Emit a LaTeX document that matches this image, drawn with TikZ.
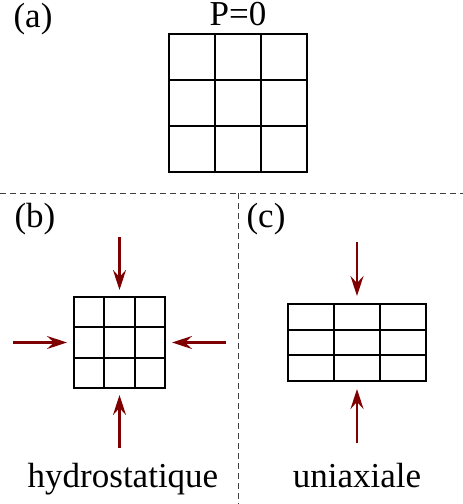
\documentclass[tikz,border=0pt]{standalone}
\usepackage{fontspec}
\setmainfont{Liberation Serif}
\newfontfamily\timesfam{Liberation Serif}
\usetikzlibrary{arrows.meta,calc}
\definecolor{arrowred}{HTML}{7F0000}
\definecolor{sepgray}{HTML}{404040}
\begin{document}
\begin{tikzpicture}[x=1pt,y=-1pt,
  lab/.style={font=\timesfam\fontsize{35}{40}\selectfont, inner sep=0pt, anchor=base},
  cellbox/.style={draw, line width=1.6pt, inner sep=0pt, outer sep=0pt},
  force/.style={draw=arrowred, line width=2.4pt, -{Stealth[length=20pt,width=13pt,inset=7pt]}},
  sep/.style={draw=sepgray, line width=1pt, dash pattern=on 6pt off 4pt},
  gridline/.style={line width=1.8pt}]
\useasboundingbox (0,0) rectangle (463,504);
% separators
\coordinate (hl) at (0,193);
\coordinate (hr) at (463,193);
\coordinate (vt) at (238,193);
\coordinate (vb) at (238,504);
\draw[sep] (hl) -- (hr);
\draw[sep] (vt) -- (vb);
% labels
\node[lab] (la) at (33,27) {(a)};
\node[lab] (p0) at (238,25.5) {P=0};
\node[lab] (lb) at (35,227) {(b)};
\node[lab] (lc) at (266,227) {(c)};
\node[lab] (th) at (123,487) {hydrostatique};
\node[lab] (tc) at (357,487) {uniaxiale};
% grid (a)
\node[cellbox, minimum width=138pt, minimum height=138pt] (ga) at (238,103) {};
\foreach \f in {1/3,2/3}{
  \draw[gridline] ($(ga.north west)!\f!(ga.north east)$) -- ($(ga.south west)!\f!(ga.south east)$);
  \draw[gridline] ($(ga.north west)!\f!(ga.south west)$) -- ($(ga.north east)!\f!(ga.south east)$);
}
% grid (b)
\node[cellbox, minimum width=91pt, minimum height=91pt] (gb) at (119.5,342.5) {};
\foreach \f in {1/3,2/3}{
  \draw[gridline] ($(gb.north west)!\f!(gb.north east)$) -- ($(gb.south west)!\f!(gb.south east)$);
  \draw[gridline] ($(gb.north west)!\f!(gb.south west)$) -- ($(gb.north east)!\f!(gb.south east)$);
}
% grid (c)
\node[cellbox, minimum width=138pt, minimum height=77pt] (gc) at (357,342.5) {};
\foreach \f in {1/3,2/3}{
  \draw[gridline] ($(gc.north west)!\f!(gc.north east)$) -- ($(gc.south west)!\f!(gc.south east)$);
  \draw[gridline] ($(gc.north west)!\f!(gc.south west)$) -- ($(gc.north east)!\f!(gc.south east)$);
}
% forces (b)
\coordinate (bt) at (119.5,237);
\coordinate (bb) at (119.5,448);
\coordinate (bl) at (13,342.5);
\coordinate (br) at (226,342.5);
\draw[force, shorten >=7pt] (bt) -- (gb.north);
\draw[force, shorten >=7pt] (bb) -- (gb.south);
\draw[force, shorten >=7pt] (bl) -- (gb.west);
\draw[force, shorten >=7pt] (br) -- (gb.east);
% forces (c)
\coordinate (ct) at (357,242);
\coordinate (cb) at (357,443);
\draw[force, shorten >=8pt] (ct) -- (gc.north);
\draw[force, shorten >=8pt] (cb) -- (gc.south);
\end{tikzpicture}
\end{document}
